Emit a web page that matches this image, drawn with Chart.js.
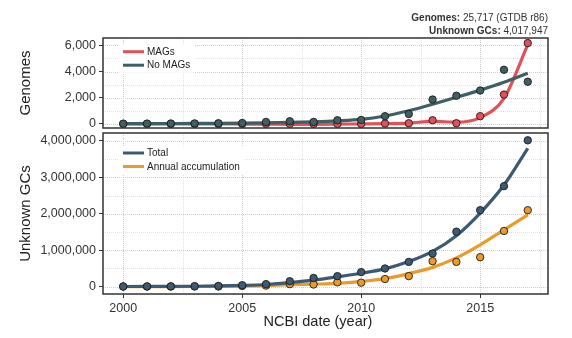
<!DOCTYPE html>
<html>
<head>
<meta charset="utf-8">
<script src="https://cdn.jsdelivr.net/npm/chart.js@4/dist/chart.umd.min.js"></script>
<style>
  html, body { margin: 0; padding: 0; background: #ffffff; }
  #wrap { position: relative; width: 572px; height: 338px; }
  canvas { position: absolute; left: 0; }
  #genomes { top: 0; }
  #gcs { top: 130px; }
</style>
</head>
<body>
<div id="wrap">
  <canvas id="genomes" width="572" height="130"></canvas>
  <canvas id="gcs" width="572" height="208"></canvas>
</div>
<script>
// ---- data -------------------------------------------------------------
const years = [2000, 2001, 2002, 2003, 2004, 2005, 2006, 2007, 2008,
               2009, 2010, 2011, 2012, 2013, 2014, 2015, 2016, 2017];

// genomes per NCBI year
const magsGenomes   = [0, 0, 0, 0, 0, 0, 5, 5, 0, 5, 0, 25, 50, 280, 50, 590, 2240, 6170];
const noMagsGenomes = [20, 25, 30, 40, 50, 70, 150, 200, 150, 280, 300, 590, 760, 1860, 2150, 2550, 4130, 3220];
// smoothed trends
const magsTrend     = [0, 0, 0, 0, 0, -10, -20, -30, -30, -20, 0, 20, 60, 200, 130, 480, 1950, 6050];
const noMagsTrend   = [20, 25, 30, 35, 45, 60, 80, 110, 160, 230, 340, 600, 1000, 1500, 2030, 2580, 3180, 3870];

// unknown gene clusters
const totalGCs      = [5000, 8000, 10000, 15000, 20000, 40000, 70000, 150000, 240000,
                       290000, 400000, 500000, 680000, 910000, 1510000, 2100000, 2760000, 4017947];
const annualGCs     = [5000, 3000, 2000, 5000, 5000, 20000, 30000, 70000, 60000,
                       120000, 110000, 210000, 290000, 700000, 680000, 810000, 1530000, 2100000];
const totalTrend    = [5000, 6000, 8000, 12000, 20000, 35000, 60000, 110000, 180000,
                       270000, 370000, 490000, 690000, 970000, 1400000, 2020000, 2790000, 3800000];
const annualTrend   = [2000, 2000, 3000, 5000, 8000, 15000, 30000, 55000, 70000,
                       90000, 145000, 220000, 360000, 530000, 790000, 1150000, 1560000, 1970000];

// ticks
const yearTicks   = [2000, 2005, 2010, 2015];
const yearMinor   = [2002.5, 2007.5, 2012.5, 2017.5];
const genomeTicks = [0, 2000, 4000, 6000];
const genomeMinor = [1000, 3000, 5000];
const gcTicks     = [0, 1000000, 2000000, 3000000, 4000000];
const gcMinor     = [500000, 1500000, 2500000, 3500000];

// summary labels
const genomeSummary = ['Genomes:', ' 25,717 (GTDB r86)'];
const gcSummary     = ['Unknown GCs:', ' 4,017,947'];

// ---- styling -----------------------------------------------------------
const FONT = '"Liberation Sans", Arial, Helvetica, sans-serif';
const INK = '#333333';
const RED = '#e0515a';
const TEAL = '#3e5f63';
const SLATE = '#3d5a72';
const ORANGE = '#eb9a2c';

const fmt = v => Math.round(v).toLocaleString('en-US');
const pts = ys => years.map((x, i) => ({ x, y: ys[i] }));

function trendSet(label, ys, color, order, rank) {
  return {
    label, data: pts(ys), showLine: true, trend: true, rank,
    borderColor: color, backgroundColor: color, borderWidth: 3.2,
    pointRadius: 0, pointHoverRadius: 0,
    cubicInterpolationMode: 'monotone', order
  };
}
function pointSet(label, ys, color, order) {
  return {
    label, data: pts(ys), showLine: false,
    pointRadius: 3.7, pointHoverRadius: 3.7, pointBorderWidth: 0.9,
    pointBorderColor: '#1c1c1c', pointBackgroundColor: color, order
  };
}

const tickGrid = { drawOnChartArea: false, drawTicks: true, tickLength: 4, tickColor: INK, tickWidth: 1 };

function xScale(show) {
  return {
    type: 'linear', min: 1999.15, max: 2017.85, display: show,
    afterBuildTicks: s => { s.ticks = yearTicks.map(value => ({ value })); },
    afterFit: s => {
      s.height = show ? 44 : 0;
      s.paddingLeft = 0; s.paddingRight = 0;
    },
    grid: tickGrid, border: { display: false },
    ticks: { color: INK, font: { family: FONT, size: 12.5 }, padding: 3,
             maxRotation: 0, autoSkip: false, callback: v => String(v) }
  };
}
function yScale(min, max, ticks) {
  return {
    type: 'linear', min, max,
    afterBuildTicks: s => { s.ticks = ticks.map(value => ({ value })); },
    afterFit: s => { s.width = 103; s.paddingTop = 0; s.paddingBottom = 0; },
    grid: tickGrid, border: { display: false },
    ticks: { color: INK, font: { family: FONT, size: 12.5 }, padding: 3, autoSkip: false,
             callback: v => fmt(v) }
  };
}

// gridlines, panel frame, inset legend and titles
function panelPlugin(cfg) {
  return {
    id: 'panel',
    beforeDatasetsDraw(chart) {
      const { ctx, chartArea: a, scales: { x, y } } = chart;
      ctx.save();
      ctx.beginPath(); ctx.rect(a.left, a.top, a.right - a.left, a.bottom - a.top); ctx.clip();
      ctx.lineWidth = 1;
      ctx.setLineDash([1, 1]);
      const vlines = (vals, color) => {
        ctx.strokeStyle = color;
        vals.forEach(v => {
          const px = Math.round(x.getPixelForValue(v)) + 0.5;
          ctx.beginPath(); ctx.moveTo(px, a.top); ctx.lineTo(px, a.bottom); ctx.stroke();
        });
      };
      const hlines = (vals, color) => {
        ctx.strokeStyle = color;
        vals.forEach(v => {
          const py = Math.round(y.getPixelForValue(v)) + 0.5;
          ctx.beginPath(); ctx.moveTo(a.left, py); ctx.lineTo(a.right, py); ctx.stroke();
        });
      };
      vlines(yearMinor, '#e2e2e2');
      hlines(cfg.yMinor, '#e2e2e2');
      vlines(yearTicks, '#cdcdcd');
      hlines(cfg.yMajor, '#cdcdcd');
      ctx.restore();
    },
    afterDatasetsDraw(chart) {
      const { ctx, chartArea: a } = chart;
      ctx.save();
      // legend
      const items = chart.data.datasets.filter(d => d.trend).sort((p, q) => p.rank - q.rank);
      ctx.font = '10px ' + FONT;
      const textW = Math.max(...items.map(d => ctx.measureText(d.label).width));
      const lx = a.left + 20, ly = cfg.legendTop;
      ctx.fillStyle = '#ffffff';
      ctx.fillRect(a.left + 16, ly - 7, 32 + textW, items.length * 13.5 + 1);
      items.forEach((d, i) => {
        const cy = ly + i * 13.5;
        ctx.strokeStyle = d.borderColor; ctx.lineWidth = 3; ctx.setLineDash([]);
        ctx.beginPath(); ctx.moveTo(lx, cy); ctx.lineTo(lx + 21, cy); ctx.stroke();
        ctx.fillStyle = '#222222'; ctx.textAlign = 'left'; ctx.textBaseline = 'middle';
        ctx.fillText(d.label, lx + 24, cy + 0.5);
      });
      // frame
      ctx.strokeStyle = INK; ctx.lineWidth = 1.5;
      ctx.strokeRect(a.left, a.top, a.right - a.left, a.bottom - a.top);
      ctx.restore();
    },
    afterDraw(chart) {
      const { ctx, chartArea: a } = chart;
      ctx.save();
      ctx.fillStyle = '#222222';
      ctx.font = '15px ' + FONT;
      ctx.textAlign = 'center'; ctx.textBaseline = 'middle';
      ctx.translate(26, (a.top + a.bottom) / 2);
      ctx.rotate(-Math.PI / 2);
      ctx.fillText(cfg.yTitle, 0, 0);
      ctx.restore();
      if (cfg.xTitle) {
        ctx.save();
        ctx.fillStyle = '#222222';
        ctx.font = '14.5px ' + FONT;
        ctx.textAlign = 'center'; ctx.textBaseline = 'middle';
        ctx.fillText(cfg.xTitle, 318, 192);
        ctx.restore();
      }
      if (cfg.summary) {
        ctx.save();
        ctx.fillStyle = INK; ctx.textAlign = 'right'; ctx.textBaseline = 'middle';
        cfg.summary.forEach((pair, i) => {
          const yy = 18 + i * 13.5;
          ctx.font = '10px ' + FONT;
          const w = ctx.measureText(pair[1]).width;
          ctx.fillText(pair[1], a.right, yy);
          ctx.font = 'bold 10px ' + FONT;
          ctx.fillText(pair[0], a.right - w, yy);
        });
        ctx.restore();
      }
    }
  };
}

const common = {
  responsive: false, animation: false, devicePixelRatio: 1,
  plugins: { legend: { display: false }, tooltip: { enabled: false } },
  events: []
};

new Chart(document.getElementById('genomes'), {
  type: 'scatter',
  data: {
    datasets: [
      pointSet('No MAGs', noMagsGenomes, TEAL, 0),
      pointSet('MAGs', magsGenomes, RED, 1),
      trendSet('No MAGs', noMagsTrend, TEAL, 2, 2),
      trendSet('MAGs', magsTrend, RED, 3, 1)
    ]
  },
  options: Object.assign({}, common, {
    layout: { autoPadding: false, padding: { top: 38, right: 24, bottom: 2, left: 0 } },
    scales: { x: xScale(false), y: yScale(-312, 6557, genomeTicks) }
  }),
  plugins: [panelPlugin({
    yMajor: genomeTicks, yMinor: genomeMinor, legendTop: 51.7,
    yTitle: 'Genomes', summary: [genomeSummary, gcSummary]
  })]
});

new Chart(document.getElementById('gcs'), {
  type: 'scatter',
  data: {
    datasets: [
      pointSet('Total', totalGCs, SLATE, 0),
      pointSet('Annual accumulation', annualGCs, ORANGE, 1),
      trendSet('Total', totalTrend, SLATE, 2, 1),
      trendSet('Annual accumulation', annualTrend, ORANGE, 3, 2)
    ]
  },
  options: Object.assign({}, common, {
    layout: { autoPadding: false, padding: { top: 3, right: 24, bottom: 0, left: 0 } },
    scales: { x: xScale(true), y: yScale(-200900, 4218850, gcTicks) }
  }),
  plugins: [panelPlugin({
    yMajor: gcTicks, yMinor: gcMinor, legendTop: 23,
    yTitle: 'Unknown GCs', xTitle: 'NCBI date (year)'
  })]
});
</script>
</body>
</html>
